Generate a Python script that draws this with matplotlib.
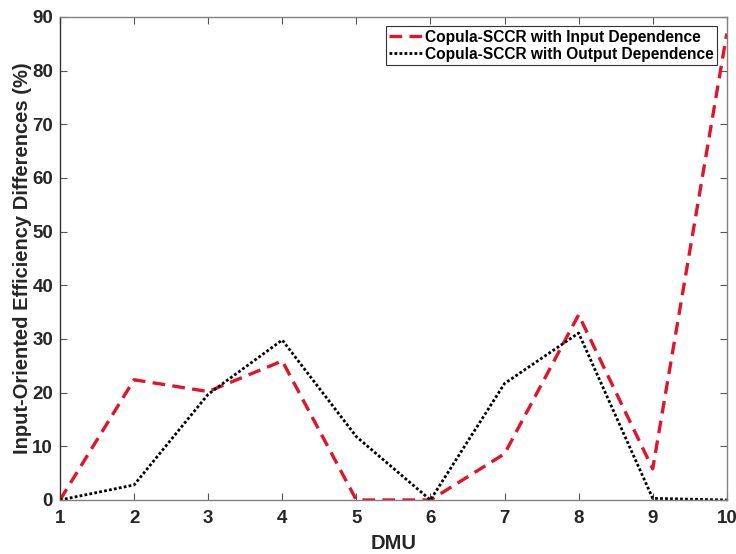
import numpy as np
import matplotlib
matplotlib.use("Agg")
import matplotlib.pyplot as plt

plt.rcParams["font.family"] = ["Liberation Sans", "DejaVu Sans"]
plt.rcParams["font.weight"] = "bold"

dmu = [1, 2, 3, 4, 5, 6, 7, 8, 9, 10]
input_dep = [0.0, 22.4, 20.2, 25.9, 0.0, 0.0, 8.6, 34.5, 5.8, 86.9]
output_dep = [0.0, 2.8, 19.7, 29.8, 11.8, 0.0, 21.7, 31.1, 0.3, 0.0]

fig = plt.figure(figsize=(7.36, 5.54), dpi=100)
ax = fig.add_axes([0.0815, 0.0975, 0.906, 0.872])

ax.plot(dmu, input_dep, color="#e0142a", ls=(0, (3.8, 2.2)), lw=2.4,
        label="Copula-SCCR with Input Dependence")
ax.plot(dmu, output_dep, color="black", ls=(0, (1, 0.8)), lw=2.0,
        label="Copula-SCCR with Output Dependence")

ax.set_xlim(1, 10)
ax.set_ylim(0, 90)
ax.set_xticks(dmu)
ax.set_yticks(np.arange(0, 91, 10))

for side, s in ax.spines.items():
    s.set_color("#333333" if side == "left" else "#808080")
    s.set_linewidth(1.0)
ax.tick_params(direction="in", top=True, right=True, length=5, width=0.8,
               color="#555555", labelsize=13.5, labelcolor="#262626")
ax.tick_params(axis="x", pad=7)
ax.tick_params(axis="y", pad=5)
for lbl in ax.get_xticklabels() + ax.get_yticklabels():
    lbl.set_fontweight("bold")

ax.set_xlabel("DMU", fontsize=14.5, fontweight="bold", color="#262626", labelpad=5)
ax.set_ylabel("Input-Oriented Efficiency Differences (%)", fontsize=14.5,
              fontweight="bold", color="#262626", labelpad=0)

leg = ax.legend(loc="upper right", bbox_to_anchor=(0.992, 0.99),
                prop={"weight": "bold", "size": 11.2}, handlelength=2.1,
                handletextpad=0.2, borderpad=0.2, labelspacing=0.15,
                fancybox=False, framealpha=1, borderaxespad=0.3)
leg.get_frame().set_edgecolor("#333333")
leg.get_frame().set_linewidth(0.8)

fig.savefig("out.png", dpi=100)
